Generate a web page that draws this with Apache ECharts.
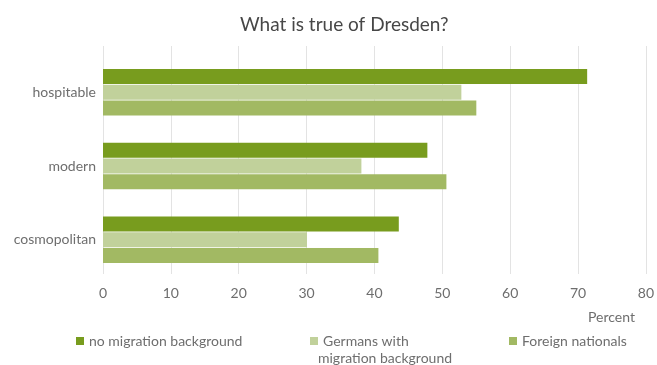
<!DOCTYPE html>
<html>
<head>
<meta charset="utf-8">
<script src="https://cdn.jsdelivr.net/npm/echarts@6/dist/echarts.min.js"></script>
<style>
  html, body { margin: 0; padding: 0; background: #ffffff; }
  #chart { width: 657px; height: 365px; }
</style>
</head>
<body>
<div id="chart"></div>
<script>
// Survey answers per statement, in percent
const categories = ['hospitable', 'modern', 'cosmopolitan'];
const seriesNames = ['no migration background', 'Germans with migration background', 'Foreign nationals'];
const noMigration = [71.2, 47.7, 43.5];
const germansMigration = [52.7, 38.0, 30.0];
const foreignNationals = [54.9, 50.5, 40.5];
const xTicks = [0, 10, 20, 30, 40, 50, 60, 70, 80];

const colors = ['#789c1e', '#c1d19b', '#a2b963'];
const font = 'Lato, "Open Sans", sans-serif';
const textGray = '#6e6e6e';

const chart = echarts.init(document.getElementById('chart'));
const seriesValues = [noMigration, germansMigration, foreignNationals];

chart.setOption({
  animation: false,
  backgroundColor: '#ffffff',
  title: {
    text: 'What is true of Dresden?',
    left: 235,
    top: 10,
    textStyle: { fontFamily: font, fontSize: 19, fontWeight: 'normal', color: '#474747' }
  },
  legend: [0, 1, 2].map(function (i) {
    const lefts = [71, 305, 504];
    return {
      data: [seriesNames[i]],
      left: lefts[i],
      top: 329,
      itemWidth: 8,
      itemHeight: 8,
      icon: 'rect',
      // the long name wraps: first line here, second line drawn below
      formatter: function (name) {
        return name === seriesNames[1] ? 'Germans with' : name;
      },
      textStyle: { fontFamily: font, fontSize: 14, color: textGray }
    };
  }),
  graphic: [
    {
      type: 'text',
      left: 318,
      top: 351,
      style: { text: 'migration background', font: '14px ' + font, fill: textGray }
    },
    {
      type: 'text',
      left: 588,
      top: 310,
      style: { text: 'Percent', font: '14px ' + font, fill: textGray }
    }
  ],
  grid: [
    // grid carrying the value scale and its vertical gridlines
    { left: 103, right: 10, top: 46, bottom: 91, containLabel: false },
    // grid carrying the bars
    { left: 103, right: 10, top: 55.5, bottom: 88.5, containLabel: false }
  ],
  xAxis: [
    {
      gridIndex: 0,
      type: 'value',
      min: xTicks[0],
      max: xTicks[xTicks.length - 1],
      interval: 10,
      axisLine: { show: false },
      axisTick: { show: false },
      splitLine: { show: true, lineStyle: { color: '#e3e3e3', width: 1 } },
      axisLabel: { margin: 12, fontFamily: font, fontSize: 14, color: textGray }
    },
    {
      gridIndex: 1,
      type: 'value',
      min: xTicks[0],
      max: xTicks[xTicks.length - 1],
      interval: 10,
      show: false
    }
  ],
  yAxis: [
    {
      gridIndex: 0,
      type: 'category',
      data: categories,
      show: false
    },
    {
      gridIndex: 1,
      type: 'category',
      data: categories,
      inverse: true,
      axisLine: { show: false },
      axisTick: { show: false },
      splitLine: { show: false },
      axisLabel: { margin: 7, fontFamily: font, fontSize: 14, color: textGray }
    }
  ],
  series: seriesValues.map(function (vals, i) {
    return {
      name: seriesNames[i],
      type: 'bar',
      xAxisIndex: 1,
      yAxisIndex: 1,
      data: vals,
      barWidth: 15,
      barGap: '5%',
      itemStyle: { color: colors[i] }
    };
  })
});
</script>
</body>
</html>
